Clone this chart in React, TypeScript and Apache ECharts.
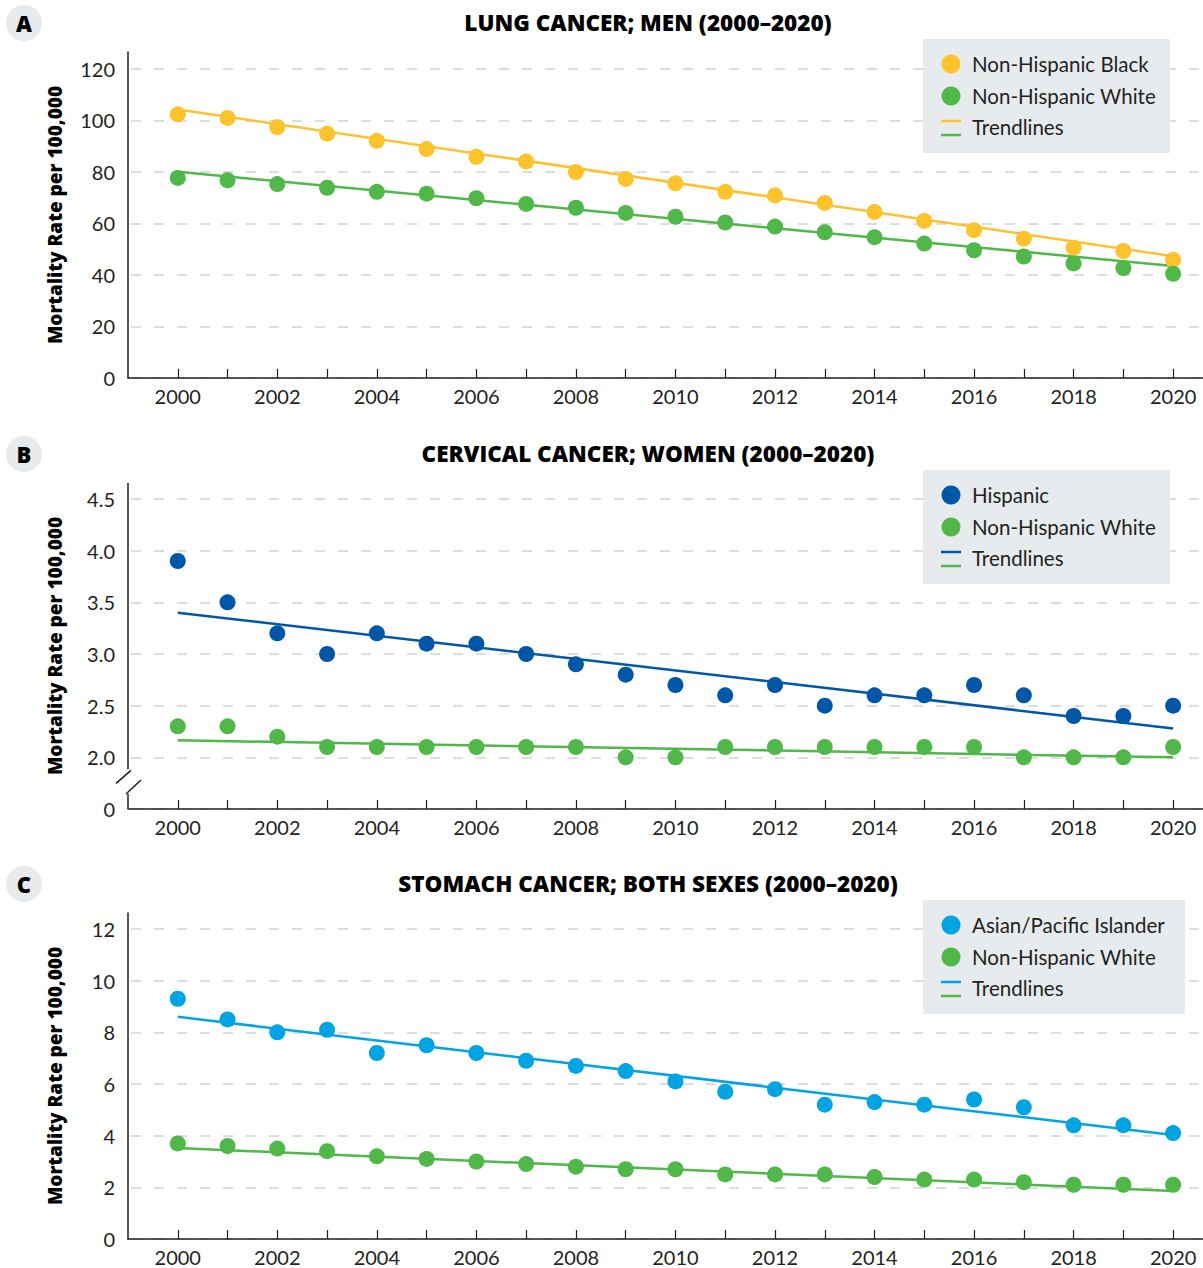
import React, { useEffect, useRef } from "react";
import * as echarts from "echarts";

const years = [2000, 2001, 2002, 2003, 2004, 2005, 2006, 2007, 2008, 2009, 2010, 2011, 2012, 2013, 2014, 2015, 2016, 2017, 2018, 2019, 2020];
const yearLabels = [2000, 2002, 2004, 2006, 2008, 2010, 2012, 2014, 2016, 2018, 2020];
const trendYears = [2000, 2020];

// Panel A: lung cancer, men
const lungBlack = [102.4, 101.0, 97.4, 94.9, 92.1, 88.9, 85.9, 84.1, 80.0, 77.3, 75.6, 72.3, 70.9, 68.0, 64.5, 61.0, 57.4, 54.1, 50.6, 49.3, 45.9];
const lungWhite = [77.7, 76.8, 75.3, 73.9, 72.3, 71.6, 69.8, 67.6, 66.1, 64.1, 62.6, 60.4, 58.8, 56.6, 54.7, 52.2, 49.6, 47.2, 44.5, 42.7, 40.5];
const lungBlackTrend = [104.3, 47.3];
const lungWhiteTrend = [80.1, 43.5];
const lungTicks = [0, 20, 40, 60, 80, 100, 120];
const lungTickLabels = ["0", "20", "40", "60", "80", "100", "120"];

// Panel B: cervical cancer, women (axis broken between 0 and 2.0)
const cervHisp = [3.9, 3.5, 3.2, 3.0, 3.2, 3.1, 3.1, 3.0, 2.9, 2.8, 2.7, 2.6, 2.7, 2.5, 2.6, 2.6, 2.7, 2.6, 2.4, 2.4, 2.5];
const cervWhite = [2.3, 2.3, 2.2, 2.1, 2.1, 2.1, 2.1, 2.1, 2.1, 2.0, 2.0, 2.1, 2.1, 2.1, 2.1, 2.1, 2.1, 2.0, 2.0, 2.0, 2.1];
const cervHispTrend = [3.4, 2.28];
const cervWhiteTrend = [2.165, 2.0];
const cervTicks = [1.5, 2.0, 2.5, 3.0, 3.5, 4.0, 4.5];
const cervTickLabels = ["0", "2.0", "2.5", "3.0", "3.5", "4.0", "4.5"];

// Panel C: stomach cancer, both sexes
const stomAPI = [9.3, 8.5, 8.0, 8.1, 7.2, 7.5, 7.2, 6.9, 6.7, 6.5, 6.1, 5.7, 5.8, 5.2, 5.3, 5.2, 5.4, 5.1, 4.4, 4.4, 4.1];
const stomWhite = [3.7, 3.6, 3.5, 3.4, 3.2, 3.1, 3.0, 2.9, 2.8, 2.7, 2.7, 2.5, 2.5, 2.5, 2.4, 2.3, 2.3, 2.2, 2.1, 2.1, 2.1];
const stomAPITrend = [8.6, 4.03];
const stomWhiteTrend = [3.52, 1.86];
const stomTicks = [0, 2, 4, 6, 8, 10, 12];
const stomTickLabels = ["0", "2", "4", "6", "8", "10", "12"];

const YELLOW = "#FDC22C";
const GREEN = "#50B848";
const DARKBLUE = "#0057A8";
const LIGHTBLUE = "#00A4E2";
const INK = "#231F20";
const PANEL_BG = "#E8EBEE";

const panels = [
  {
    letter: "A",
    title: "LUNG CANCER; MEN (2000–2020)",
    names: ["Non-Hispanic Black", "Non-Hispanic White"],
    colors: [YELLOW, GREEN],
    series: [lungBlack, lungWhite],
    trends: [lungBlackTrend, lungWhiteTrend],
    ticks: lungTicks,
    tickLabels: lungTickLabels,
    min: 0,
    max: 126.6,
    legendWidth: 247,
  },
  {
    letter: "B",
    title: "CERVICAL CANCER; WOMEN (2000–2020)",
    names: ["Hispanic", "Non-Hispanic White"],
    colors: [DARKBLUE, GREEN],
    series: [cervHisp, cervWhite],
    trends: [cervHispTrend, cervWhiteTrend],
    ticks: cervTicks,
    tickLabels: cervTickLabels,
    min: 1.5,
    max: 4.655,
    legendWidth: 247,
  },
  {
    letter: "C",
    title: "STOMACH CANCER; BOTH SEXES (2000–2020)",
    names: ["Asian/Pacific Islander", "Non-Hispanic White"],
    colors: [LIGHTBLUE, GREEN],
    series: [stomAPI, stomWhite],
    trends: [stomAPITrend, stomWhiteTrend],
    ticks: stomTicks,
    tickLabels: stomTickLabels,
    min: 0,
    max: 12.62,
    legendWidth: 262,
  },
];

const OFFSETS = [0, 431, 861];
const GRID_TOP = 52;
const GRID_H = 326;
const GRID_LEFT = 128;

export default function App() {
  const ref = useRef<HTMLDivElement>(null);

  useEffect(() => {
    const chart = echarts.init(ref.current!, null, { renderer: "svg" });

    const grid: any[] = [];
    const xAxis: any[] = [];
    const yAxis: any[] = [];
    const series: any[] = [];

    panels.forEach((p, i) => {
      grid.push({ left: GRID_LEFT, right: 0, top: GRID_TOP + OFFSETS[i], height: GRID_H });
      xAxis.push({
        gridIndex: i,
        type: "value",
        min: 1999,
        max: 2020.6,
        axisLine: { show: true, lineStyle: { color: INK, width: 1.5 } },
        axisTick: { show: true, inside: true, length: 9, customValues: years, lineStyle: { color: INK, width: 1.2 } },
        axisLabel: {
          customValues: yearLabels,
          formatter: (v: number) => String(v),
          fontFamily: "Lato",
          fontSize: 20,
          color: INK,
          margin: 8,
        },
        splitLine: { show: false },
      });
      yAxis.push({
        gridIndex: i,
        type: "value",
        min: p.min,
        max: p.max,
        name: "Mortality Rate per 100,000",
        nameLocation: "middle",
        nameGap: 64,
        nameTextStyle: { fontFamily: "Open Sans", fontWeight: 800, fontSize: 19, color: "#000" },
        axisLine: { show: i !== 1, lineStyle: { color: INK, width: 1.5 } },
        axisTick: { show: false, customValues: p.ticks },
        axisLabel: {
          customValues: p.ticks,
          formatter: (v: number) => {
            const k = p.ticks.findIndex((t) => Math.abs(t - v) < 1e-6);
            return k >= 0 ? p.tickLabels[k] : "";
          },
          fontFamily: "Lato",
          fontSize: 20,
          color: INK,
          margin: 13,
        },
        splitLine: { show: true, lineStyle: { color: "#DDDDDD", width: 2, type: [10, 13], dashOffset: -3 } },
      });
      p.series.forEach((arr, s) => {
        series.push({
          type: "line",
          xAxisIndex: i,
          yAxisIndex: i,
          data: trendYears.map((y, k) => [y, p.trends[s][k]]),
          symbol: "none",
          lineStyle: { color: p.colors[s], width: 2.5 },
          z: 2,
          silent: true,
        });
      });
      p.series.forEach((arr, s) => {
        series.push({
          type: "scatter",
          xAxisIndex: i,
          yAxisIndex: i,
          data: years.map((y, k) => [y, arr[k]]),
          symbol: "circle",
          symbolSize: 16,
          itemStyle: { color: p.colors[s], opacity: 1 },
          z: 3,
          silent: true,
        });
      });
    });

    chart.setOption({
      animation: false,
      backgroundColor: "#ffffff",
      textStyle: { fontFamily: "Lato" },
      grid,
      xAxis,
      yAxis,
      series,
    });

    const graphic: any[] = [];
    panels.forEach((p, i) => {
      const oy = OFFSETS[i];
      graphic.push({ type: "circle", shape: { cx: 24, cy: 23 + oy, r: 18 }, style: { fill: PANEL_BG } });
      graphic.push({
        type: "text",
        x: 24,
        y: 23 + oy,
        style: { text: p.letter, fill: "#000", font: "800 22px 'Open Sans'", align: "center", verticalAlign: "middle" },
      });
      graphic.push({
        type: "text",
        x: 648,
        y: 22 + oy,
        style: { text: p.title, fill: "#000", font: "800 22.5px 'Open Sans'", align: "center", verticalAlign: "middle" },
      });
      const lx = 923;
      const ly = 39 + oy;
      const children: any[] = [
        { type: "rect", shape: { x: 0, y: 0, width: p.legendWidth, height: 114 }, style: { fill: PANEL_BG } },
      ];
      p.names.forEach((n, s) => {
        children.push({ type: "circle", shape: { cx: 28, cy: 25 + s * 32, r: 9.5 }, style: { fill: p.colors[s] } });
        children.push({
          type: "text",
          x: 49,
          y: 25 + s * 32,
          style: { text: n, fill: INK, font: "20.5px Lato", verticalAlign: "middle" },
        });
      });
      children.push({ type: "line", shape: { x1: 18, y1: 82, x2: 38, y2: 82 }, style: { stroke: p.colors[0], lineWidth: 2.5 } });
      children.push({ type: "line", shape: { x1: 18, y1: 96, x2: 38, y2: 96 }, style: { stroke: p.colors[1], lineWidth: 2.5 } });
      children.push({
        type: "text",
        x: 49,
        y: 88,
        style: { text: "Trendlines", fill: INK, font: "20.5px Lato", verticalAlign: "middle" },
      });
      graphic.push({ type: "group", x: lx, y: ly, z: 10, children });
    });

    // Axis break for panel B
    const top = chart.convertToPixel({ gridIndex: 1 }, [1999, 4.655]) as number[];
    const upEnd = chart.convertToPixel({ gridIndex: 1 }, [1999, 1.884]) as number[];
    const lowStart = chart.convertToPixel({ gridIndex: 1 }, [1999, 1.645]) as number[];
    const bottom = chart.convertToPixel({ gridIndex: 1 }, [1999, 1.5]) as number[];
    const ax = top[0];
    const st = { stroke: INK, lineWidth: 1.5 };
    graphic.push({ type: "line", shape: { x1: ax, y1: top[1], x2: ax, y2: upEnd[1] }, style: st, z: 5 });
    graphic.push({ type: "line", shape: { x1: ax, y1: lowStart[1], x2: ax, y2: bottom[1] }, style: st, z: 5 });
    graphic.push({ type: "line", shape: { x1: ax - 12, y1: upEnd[1] + 14, x2: ax + 3, y2: upEnd[1] + 1 }, style: st, z: 5 });
    graphic.push({ type: "line", shape: { x1: ax - 2, y1: lowStart[1], x2: ax + 13, y2: lowStart[1] - 14 }, style: st, z: 5 });

    chart.setOption({ graphic });

    return () => chart.dispose();
  }, []);

  return (
    <div
      ref={ref}
      style={{ position: "absolute", left: 0, top: 0, width: 1203, height: 1268, background: "#fff" }}
    />
  );
}
